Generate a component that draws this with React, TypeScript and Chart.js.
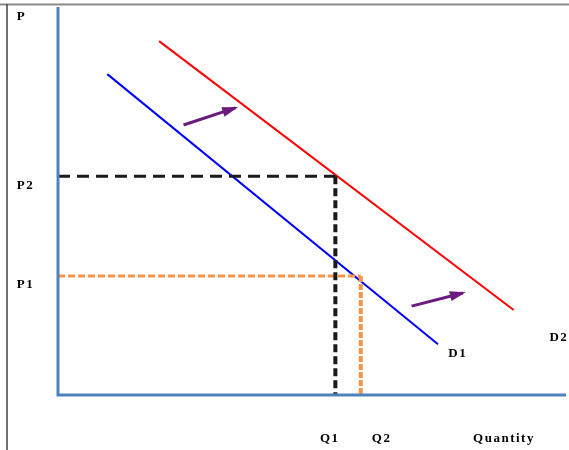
import { useEffect, useRef } from 'react';
import { Chart, registerables } from 'chart.js';

Chart.register(...registerables);

// Demand curves (quantity x, price y) in chart units 0..10
const demandD1 = [{ x: 0.97, y: 8.27 }, { x: 7.48, y: 1.31 }];
const demandD2 = [{ x: 1.99, y: 9.12 }, { x: 8.97, y: 2.19 }];
const priceP2 = 5.64;
const priceP1 = 3.07;
const quantityQ1 = 5.46;
const quantityQ2 = 5.96;
const guideP2 = [{ x: 0, y: priceP2 }, { x: quantityQ1, y: priceP2 }];
const guideQ1 = [{ x: quantityQ1, y: priceP2 }, { x: quantityQ1, y: 0 }];
const guideP1 = [{ x: 0, y: priceP1 }, { x: quantityQ2, y: priceP1 }];
const guideQ2 = [{ x: quantityQ2, y: priceP1 }, { x: quantityQ2, y: 0 }];
const shiftArrow1 = [{ x: 2.47, y: 6.96 }, { x: 3.49, y: 7.40 }];
const shiftArrow2 = [{ x: 6.96, y: 2.29 }, { x: 7.97, y: 2.63 }];
const priceLabels = [
  { text: 'P', x: -0.81, y: 9.74 },
  { text: 'P2', x: -0.81, y: 5.39 },
  { text: 'P1', x: -0.81, y: 2.84 },
];
const quantityLabels = [
  { text: 'Q1', x: 5.35, y: -1.13 },
  { text: 'Q2', x: 6.37, y: -1.13 },
  { text: 'Quantity', x: 8.78, y: -1.13 },
];
const curveLabels = [
  { text: 'D1', x: 7.87, y: 1.06 },
  { text: 'D2', x: 9.86, y: 1.49 },
];

const ARROW_COLOR = '#6a1b7d';
const AXIS_COLOR = '#4f81bd';
const BLACK_DASH = '#1a1a1a';
const ORANGE_DASH = '#f79646';

const decorPlugin = {
  id: 'decor',
  beforeDraw(chart: any) {
    const ctx = chart.ctx;
    ctx.save();
    ctx.fillStyle = '#ffffff';
    ctx.fillRect(0, 0, chart.width, chart.height);
    ctx.strokeStyle = '#8a8a8a';
    ctx.lineWidth = 2;
    ctx.beginPath();
    ctx.moveTo(0, 4.5);
    ctx.lineTo(chart.width, 4.5);
    ctx.stroke();
    ctx.strokeStyle = '#444';
    ctx.lineWidth = 1.5;
    ctx.beginPath();
    ctx.moveTo(7, 4);
    ctx.lineTo(7, chart.height);
    ctx.stroke();
    ctx.restore();
  },
  afterDatasetsDraw(chart: any) {
    const ctx = chart.ctx;
    const xs = chart.scales.x;
    const ys = chart.scales.y;
    const area = chart.chartArea;
    ctx.save();
    // axes
    ctx.strokeStyle = AXIS_COLOR;
    ctx.lineWidth = 3;
    ctx.beginPath();
    ctx.moveTo(area.left, area.top);
    ctx.lineTo(area.left, area.bottom);
    ctx.lineTo(area.right, area.bottom);
    ctx.stroke();
    // arrow heads
    chart.data.datasets.forEach((ds: any, i: number) => {
      if (!ds.isArrow) return;
      const meta = chart.getDatasetMeta(i);
      const pts = meta.data;
      const a = pts[pts.length - 2];
      const b = pts[pts.length - 1];
      const ang = Math.atan2(b.y - a.y, b.x - a.x);
      const len = 13;
      const half = 5;
      ctx.fillStyle = ds.borderColor;
      ctx.beginPath();
      ctx.moveTo(b.x + Math.cos(ang) * 3, b.y + Math.sin(ang) * 3);
      ctx.lineTo(b.x - Math.cos(ang) * len - Math.sin(ang) * half, b.y - Math.sin(ang) * len + Math.cos(ang) * half);
      ctx.lineTo(b.x - Math.cos(ang) * len + Math.sin(ang) * half, b.y - Math.sin(ang) * len - Math.cos(ang) * half);
      ctx.closePath();
      ctx.fill();
    });
    // labels
    ctx.fillStyle = '#000';
    ctx.font = 'bold 13px "Liberation Serif", "DejaVu Serif", serif';
    (ctx as any).letterSpacing = '1.5px';
    ctx.textBaseline = 'middle';
    ctx.textAlign = 'left';
    priceLabels.forEach((l) => {
      ctx.fillText(l.text, xs.getPixelForValue(l.x), ys.getPixelForValue(l.y));
    });
    ctx.textAlign = 'center';
    quantityLabels.forEach((l) => {
      ctx.fillText(l.text, xs.getPixelForValue(l.x), ys.getPixelForValue(l.y));
    });
    curveLabels.forEach((l) => {
      ctx.fillText(l.text, xs.getPixelForValue(l.x), ys.getPixelForValue(l.y));
    });
    (ctx as any).letterSpacing = '0px';
    ctx.restore();
  },
};

export default function App() {
  const ref = useRef<HTMLCanvasElement | null>(null);
  useEffect(() => {
    document.body.style.margin = '0';
    if (!ref.current) return;
    const chart = new Chart(ref.current, {
      type: 'line',
      data: {
        datasets: [
          { label: 'P2', data: guideP2, borderColor: BLACK_DASH, borderWidth: 3, borderDash: [12, 7], pointRadius: 0, fill: false },
          { label: 'Q1', data: guideQ1, borderColor: BLACK_DASH, borderWidth: 4, borderDash: [8, 4], pointRadius: 0, fill: false },
          { label: 'P1', data: guideP1, borderColor: ORANGE_DASH, borderWidth: 3, borderDash: [7, 3], pointRadius: 0, fill: false },
          { label: 'Q2', data: guideQ2, borderColor: ORANGE_DASH, borderWidth: 4, borderDash: [6, 2], pointRadius: 0, fill: false },
          { label: 'D1', data: demandD1, borderColor: '#0000ff', borderWidth: 2, pointRadius: 0, fill: false },
          { label: 'D2', data: demandD2, borderColor: '#ff0000', borderWidth: 2, pointRadius: 0, fill: false },
          { label: 'shift1', data: shiftArrow1, borderColor: ARROW_COLOR, borderWidth: 3, pointRadius: 0, fill: false, isArrow: true } as any,
          { label: 'shift2', data: shiftArrow2, borderColor: ARROW_COLOR, borderWidth: 3, pointRadius: 0, fill: false, isArrow: true } as any,
        ],
      },
      options: {
        responsive: false,
        animation: false,
        layout: { padding: { left: 58, top: 7, right: 3, bottom: 55 } },
        plugins: { legend: { display: false }, tooltip: { enabled: false } },
        scales: {
          x: { type: 'linear', min: 0, max: 10, display: false },
          y: { type: 'linear', min: 0, max: 10, display: false },
        },
      },
      plugins: [decorPlugin],
    });
    return () => chart.destroy();
  }, []);
  return (
    <div style={{ width: 569, height: 450 }}>
      <canvas ref={ref} width={569} height={450} />
    </div>
  );
}
